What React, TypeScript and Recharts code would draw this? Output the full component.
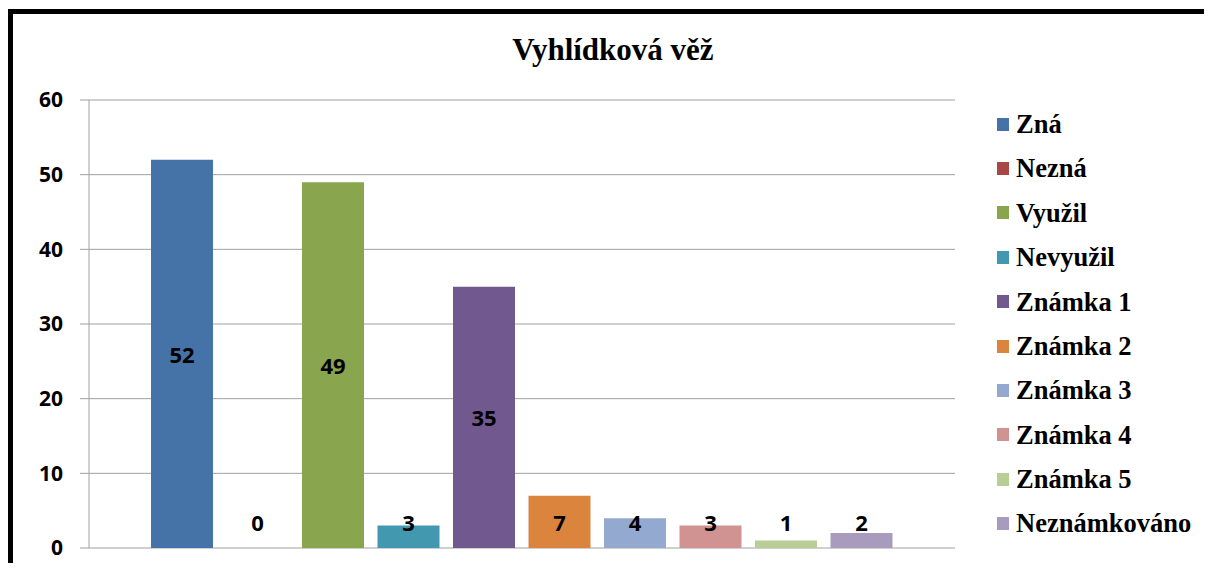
import { Bar, BarChart, CartesianGrid, LabelList, Legend, XAxis, YAxis } from "recharts";

const title = "Vyhlídková věž";
const seriesNames = [
    "Zná",
    "Nezná",
    "Využil",
    "Nevyužil",
    "Známka 1",
    "Známka 2",
    "Známka 3",
    "Známka 4",
    "Známka 5",
    "Neznámkováno"
];
const seriesValues = [52, 0, 49, 3, 35, 7, 4, 3, 1, 2];
const seriesColors = [
    "#4572A7",
    "#AA4643",
    "#89A54E",
    "#4198AF",
    "#71588F",
    "#DB843D",
    "#93A9CF",
    "#D19392",
    "#B9CD96",
    "#A99BBD"
];
const yTicks = [0, 10, 20, 30, 40, 50, 60];

const row: Record<string, string | number> = { name: title };
seriesNames.forEach((_, i) => {
    row["s" + i] = seriesValues[i];
});
const chartData = [row];

const gridColor = "#a0a0a0";
const labelFont = "'Open Sans', 'Noto Sans', sans-serif";
const serifFont = "'Liberation Serif', 'DejaVu Serif', serif";

// Excel puts centered labels in the middle of the bar, but not lower than a fixed floor
function CenterLabel(props: any) {
    const { x, y, width, height, value } = props;
    const base = y + height;
    const cy = Math.min(y + height / 2, base - 26);
    return (
        <text
            x={x + width / 2}
            y={cy}
            textAnchor="middle"
            dominantBaseline="central"
            fontFamily={labelFont}
            fontWeight={700}
            fontSize={22}
            fill="#000"
        >
            {value}
        </text>
    );
}

function SideLegend({ payload }: any) {
    const items = [...(payload || [])].sort(
        (a: any, b: any) => seriesNames.indexOf(a.value) - seriesNames.indexOf(b.value)
    );
    return (
        <div style={{ width: 215 }}>
            {items.map((item: any) => (
                <div key={item.value} style={{ height: 44.4, display: "flex", alignItems: "center" }}>
                    <span style={{ width: 12, height: 13, background: item.color, marginRight: 7, flex: "none" }} />
                    <span style={{ fontFamily: serifFont, fontWeight: 700, fontSize: 26.5, color: "#000", lineHeight: 1 }}>
                        {item.value}
                    </span>
                </div>
            ))}
        </div>
    );
}

export default function App() {
    return (
        <div style={{ position: "relative", width: 1212, height: 571, margin: -8, overflow: "hidden", background: "#fff" }}>
            <div
                style={{
                    position: "absolute",
                    left: 8,
                    top: 9,
                    width: 1200,
                    height: 620,
                    boxSizing: "border-box",
                    borderTop: "5px solid #000",
                    borderLeft: "5px solid #000",
                    borderRight: "1px solid #cfcfcf"
                }}
            />
            <div
                style={{
                    position: "absolute",
                    left: 413,
                    top: 34,
                    width: 400,
                    textAlign: "center",
                    fontFamily: serifFont,
                    fontWeight: 700,
                    fontSize: 31,
                    lineHeight: "31px",
                    color: "#000"
                }}
            >
                {title}
            </div>
            <div style={{ position: "absolute", left: 0, top: 0 }}>
                <BarChart
                    width={1212}
                    height={571}
                    data={chartData}
                    margin={{ top: 100, right: 257, bottom: 23, left: 0 }}
                    barSize={62}
                    barGap={13.5}
                >
                    <CartesianGrid vertical={false} stroke={gridColor} strokeWidth={1} />
                    <XAxis dataKey="name" hide />
                    <YAxis
                        width={89}
                        domain={[0, 60]}
                        ticks={yTicks}
                        interval={0}
                        stroke={gridColor}
                        tickSize={9}
                        tickMargin={17}
                        tick={{ fill: "#000", fontFamily: labelFont, fontWeight: 700, fontSize: 21 }}
                    />
                    <Legend
                        layout="vertical"
                        align="center"
                        verticalAlign="middle"
                        content={<SideLegend />}
                        wrapperStyle={{ left: 997, top: 102, width: 215 }}
                    />
                    {seriesNames.map((name, i) => (
                        <Bar
                            key={name}
                            dataKey={"s" + i}
                            name={name}
                            fill={seriesColors[i]}
                            minPointSize={0.01}
                            isAnimationActive={false}
                        >
                            <LabelList dataKey={"s" + i} content={<CenterLabel />} />
                        </Bar>
                    ))}
                </BarChart>
            </div>
        </div>
    );
}
